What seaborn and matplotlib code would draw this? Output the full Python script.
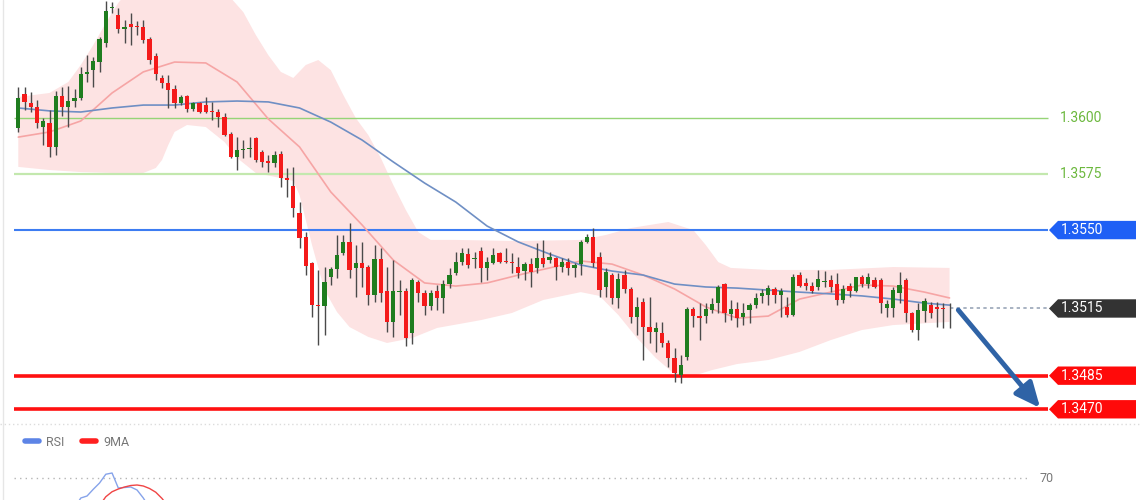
import matplotlib
matplotlib.use("Agg")
import matplotlib.pyplot as plt
from matplotlib.patches import Polygon
from matplotlib.lines import Line2D
from matplotlib.transforms import blended_transform_factory
import seaborn as sns
import numpy as np

# OHLC candles, oldest first
opens = [1.35956, 1.36107, 1.36067, 1.36049, 1.35960, 1.35978, 1.35871, 1.36098, 1.36049, 1.36076,
         1.36090, 1.36197, 1.36214, 1.36250, 1.36335, 1.36491, 1.36460, 1.36397, 1.36420, 1.36411,
         1.36406, 1.36353, 1.36277, 1.36179, 1.36156, 1.36130, 1.36067, 1.36098, 1.36040, 1.36067,
         1.36058, 1.36032, 1.36027, 1.36005, 1.35929, 1.35826, 1.35857, 1.35862, 1.35911, 1.35848,
         1.35808, 1.35799, 1.35840, 1.35732, 1.35697, 1.35576, 1.35469, 1.35353, 1.35165, 1.35161,
         1.35290, 1.35326, 1.35398, 1.35447, 1.35331, 1.35353, 1.35335, 1.35210, 1.35371, 1.35228,
         1.35090, 1.35223, 1.35228, 1.35041, 1.35268, 1.35219, 1.35161, 1.35228, 1.35197, 1.35259,
         1.35308, 1.35357, 1.35393, 1.35371, 1.35407, 1.35331, 1.35353, 1.35398, 1.35362, 1.35357,
         1.35335, 1.35317, 1.35348, 1.35331, 1.35375, 1.35366, 1.35375, 1.35335, 1.35357, 1.35331,
         1.35348, 1.35447, 1.35469, 1.35380, 1.35246, 1.35299, 1.35197, 1.35299, 1.35237, 1.35112,
         1.35179, 1.35067, 1.35045, 1.35041, 1.34996, 1.34929, 1.34853, 1.34933, 1.35148, 1.35116,
         1.35116, 1.35143, 1.35174, 1.35259, 1.35125, 1.35148, 1.35112, 1.35143, 1.35165, 1.35206,
         1.35210, 1.35237, 1.35210, 1.35157, 1.35121, 1.35299, 1.35264, 1.35250, 1.35246, 1.35268,
         1.35277, 1.35259, 1.35188, 1.35250, 1.35228, 1.35290, 1.35259, 1.35277, 1.35277, 1.35152,
         1.35152, 1.35219, 1.35277, 1.35130, 1.35054, 1.35139, 1.35165, 1.35157, 1.35152, 1.35152]
highs = [1.36139, 1.36139, 1.36116, 1.36081, 1.36000, 1.36036, 1.36121, 1.36139, 1.36143, 1.36130,
         1.36228, 1.36281, 1.36273, 1.36362, 1.36523, 1.36518, 1.36491, 1.36438, 1.36469, 1.36433,
         1.36438, 1.36362, 1.36290, 1.36192, 1.36192, 1.36148, 1.36103, 1.36103, 1.36072, 1.36072,
         1.36094, 1.36072, 1.36040, 1.36023, 1.35938, 1.35915, 1.35902, 1.35915, 1.35915, 1.35857,
         1.35835, 1.35853, 1.35853, 1.35777, 1.35782, 1.35625, 1.35491, 1.35357, 1.35322, 1.35335,
         1.35335, 1.35478, 1.35478, 1.35532, 1.35433, 1.35447, 1.35344, 1.35433, 1.35420, 1.35335,
         1.35366, 1.35277, 1.35241, 1.35286, 1.35277, 1.35232, 1.35232, 1.35255, 1.35277, 1.35331,
         1.35402, 1.35420, 1.35420, 1.35402, 1.35424, 1.35380, 1.35420, 1.35402, 1.35420, 1.35398,
         1.35380, 1.35357, 1.35375, 1.35442, 1.35456, 1.35402, 1.35380, 1.35375, 1.35375, 1.35353,
         1.35456, 1.35482, 1.35509, 1.35402, 1.35331, 1.35308, 1.35308, 1.35322, 1.35246, 1.35201,
         1.35197, 1.35201, 1.35090, 1.35090, 1.35009, 1.34974, 1.34942, 1.35157, 1.35157, 1.35174,
         1.35174, 1.35197, 1.35255, 1.35264, 1.35188, 1.35179, 1.35174, 1.35174, 1.35219, 1.35237,
         1.35255, 1.35246, 1.35241, 1.35201, 1.35304, 1.35313, 1.35286, 1.35268, 1.35322, 1.35317,
         1.35299, 1.35308, 1.35255, 1.35264, 1.35290, 1.35299, 1.35308, 1.35290, 1.35286, 1.35188,
         1.35246, 1.35313, 1.35286, 1.35134, 1.35174, 1.35197, 1.35179, 1.35179, 1.35174, 1.35174]
lows = [1.35938, 1.36036, 1.36027, 1.35956, 1.35880, 1.35826, 1.35835, 1.36009, 1.35960, 1.36049,
        1.36081, 1.36161, 1.36139, 1.36206, 1.36317, 1.36469, 1.36380, 1.36335, 1.36326, 1.36371,
        1.36335, 1.36241, 1.36170, 1.36134, 1.36045, 1.36045, 1.36058, 1.36027, 1.36032, 1.36023,
        1.36023, 1.35991, 1.35960, 1.35920, 1.35822, 1.35768, 1.35822, 1.35826, 1.35804, 1.35782,
        1.35759, 1.35782, 1.35692, 1.35648, 1.35558, 1.35420, 1.35299, 1.35112, 1.34987, 1.35032,
        1.35255, 1.35286, 1.35389, 1.35286, 1.35201, 1.35246, 1.35165, 1.35179, 1.35179, 1.35045,
        1.35023, 1.35121, 1.34982, 1.34991, 1.35179, 1.35121, 1.35143, 1.35143, 1.35130, 1.35241,
        1.35299, 1.35344, 1.35331, 1.35331, 1.35268, 1.35277, 1.35348, 1.35353, 1.35353, 1.35308,
        1.35286, 1.35277, 1.35246, 1.35308, 1.35335, 1.35353, 1.35277, 1.35313, 1.35299, 1.35290,
        1.35299, 1.35442, 1.35335, 1.35201, 1.35201, 1.35170, 1.35152, 1.35219, 1.35085, 1.35032,
        1.34920, 1.34996, 1.34956, 1.34978, 1.34889, 1.34822, 1.34817, 1.34920, 1.35067, 1.35009,
        1.35085, 1.35130, 1.35130, 1.35090, 1.35098, 1.35067, 1.35076, 1.35085, 1.35152, 1.35174,
        1.35165, 1.35174, 1.35112, 1.35112, 1.35116, 1.35246, 1.35232, 1.35219, 1.35232, 1.35246,
        1.35223, 1.35165, 1.35174, 1.35201, 1.35223, 1.35246, 1.35241, 1.35241, 1.35130, 1.35112,
        1.35112, 1.35174, 1.35090, 1.35045, 1.35009, 1.35090, 1.35107, 1.35067, 1.35063, 1.35063]
closes = [1.36090, 1.36072, 1.36049, 1.35978, 1.35987, 1.35871, 1.36098, 1.36049, 1.36076, 1.36090,
          1.36197, 1.36206, 1.36255, 1.36353, 1.36478, 1.36496, 1.36397, 1.36406, 1.36406, 1.36406,
          1.36348, 1.36259, 1.36197, 1.36156, 1.36125, 1.36067, 1.36094, 1.36040, 1.36067, 1.36027,
          1.36027, 1.36027, 1.36005, 1.35924, 1.35826, 1.35857, 1.35862, 1.35866, 1.35813, 1.35804,
          1.35799, 1.35835, 1.35732, 1.35724, 1.35599, 1.35465, 1.35340, 1.35165, 1.35161, 1.35268,
          1.35326, 1.35389, 1.35447, 1.35322, 1.35353, 1.35331, 1.35210, 1.35371, 1.35219, 1.35090,
          1.35228, 1.35228, 1.35018, 1.35277, 1.35219, 1.35161, 1.35219, 1.35197, 1.35259, 1.35299,
          1.35357, 1.35398, 1.35344, 1.35375, 1.35331, 1.35357, 1.35389, 1.35357, 1.35357, 1.35353,
          1.35308, 1.35348, 1.35313, 1.35375, 1.35348, 1.35380, 1.35335, 1.35357, 1.35331, 1.35344,
          1.35447, 1.35469, 1.35353, 1.35232, 1.35313, 1.35197, 1.35282, 1.35237, 1.35112, 1.35157,
          1.35067, 1.35045, 1.35063, 1.34996, 1.34929, 1.34862, 1.34898, 1.35148, 1.35116, 1.35107,
          1.35148, 1.35170, 1.35246, 1.35130, 1.35148, 1.35107, 1.35130, 1.35165, 1.35197, 1.35219,
          1.35241, 1.35210, 1.35228, 1.35121, 1.35290, 1.35250, 1.35250, 1.35228, 1.35282, 1.35272,
          1.35246, 1.35188, 1.35237, 1.35228, 1.35290, 1.35259, 1.35290, 1.35246, 1.35174, 1.35170,
          1.35232, 1.35255, 1.35130, 1.35054, 1.35143, 1.35183, 1.35130, 1.35148, 1.35148, 1.35150]

# moving averages read every 5 candles
ma_idx = [0, 5, 10, 15, 20, 25, 30, 35, 40, 45, 50, 55, 60, 65, 70, 75,
          80, 85, 90, 95, 100, 105, 110, 115, 120, 125, 130, 135, 140, 145, 149]
ma_fast = [1.35915, 1.35938, 1.35987, 1.36112, 1.36206, 1.36250, 1.36246, 1.36161, 1.35996, 1.35871,
           1.35670, 1.35523, 1.35366, 1.35264, 1.35250, 1.35264, 1.35299, 1.35331, 1.35362, 1.35348,
           1.35299, 1.35237, 1.35157, 1.35107, 1.35116, 1.35192, 1.35223, 1.35255, 1.35250, 1.35223, 1.35197]
ma_slow = [1.36045, 1.36032, 1.36027, 1.36045, 1.36058, 1.36058, 1.36072, 1.36076, 1.36072, 1.36045,
           1.35982, 1.35902, 1.35804, 1.35710, 1.35625, 1.35518, 1.35447, 1.35393, 1.35344, 1.35317,
           1.35299, 1.35259, 1.35246, 1.35241, 1.35232, 1.35223, 1.35215, 1.35206, 1.35192, 1.35174, 1.35165]

# envelope band
band_up_idx = [0, 5, 8, 10, 12, 14, 16, 18, 22, 26, 30, 34, 36, 38, 40, 42, 44, 46, 48, 50, 52, 54,
               56, 58, 60, 62, 64, 66, 70, 80, 90, 94, 98, 104, 108, 110, 112, 114, 120, 130, 140, 149]
band_up = [1.36094, 1.36112, 1.36161, 1.36237, 1.36326, 1.36424, 1.36514, 1.36581, 1.36639, 1.36616,
           1.36572, 1.36536, 1.36473, 1.36371, 1.36281, 1.36206, 1.36179, 1.36237, 1.36259, 1.36214,
           1.36103, 1.36000, 1.35924, 1.35822, 1.35701, 1.35590, 1.35491, 1.35456, 1.35456, 1.35451,
           1.35456, 1.35478, 1.35509, 1.35536, 1.35500, 1.35433, 1.35357, 1.35331, 1.35322, 1.35322,
           1.35335, 1.35331]
band_lo_idx = [0, 5, 10, 15, 20, 22, 23, 24, 25, 27, 30, 33, 35, 38, 42, 44, 45, 47, 49, 51, 53, 56,
               59, 63, 67, 74, 79, 84, 90, 93, 96, 99, 102, 105, 108, 111, 115, 120, 125, 130, 135, 140, 149]
band_lo = [1.35782, 1.35768, 1.35759, 1.35755, 1.35755, 1.35777, 1.35813, 1.35880, 1.35938, 1.35969,
           1.35960, 1.35893, 1.35822, 1.35755, 1.35732, 1.35719, 1.35656, 1.35433, 1.35232, 1.35134,
           1.35067, 1.35023, 1.34996, 1.35018, 1.35063, 1.35098, 1.35130, 1.35188, 1.35223, 1.35206,
           1.35121, 1.35018, 1.34929, 1.34857, 1.34849, 1.34875, 1.34902, 1.34920, 1.34956, 1.35009,
           1.35054, 1.35076, 1.35090]

# RSI pane
rsi_idx = [9, 10, 11, 12, 13, 14, 15, 16, 17, 18, 19, 20, 21]
rsi = [58, 62, 62.8, 65.5, 68, 71.5, 72, 66, 66.2, 66.4, 65.2, 62, 58]
rsi_ma_idx = [13, 14, 15, 16, 17, 18, 19, 20, 21, 22, 23, 24]
rsi_ma = [59, 62.5, 64.5, 65.6, 66.4, 67, 67.2, 66.8, 65.8, 64.3, 61.8, 58.5]

resistance = [1.3600, 1.3575]
pivot = 1.3550
last_price = 1.3515
supports = [1.3485, 1.3470]
arrow_from = (150.4, 1.35143)
arrow_to = (163.5, 1.34706)

W, H = 1140, 500
X0, STEP = 18.3, 6.25          # pixel of first candle, pixels per candle


def px(x):
    return (x - X0) / STEP


sns.set_style("white")
plt.rcParams['font.family'] = ['Roboto', 'DejaVu Sans']

fig = plt.figure(figsize=(W / 100, H / 100), dpi=100)
ax = fig.add_axes([0, 76 / H, 1, 424 / H])
rax = fig.add_axes([0, 0, 1, 76 / H])
for a in (ax, rax):
    a.set_xlim(px(0), px(W))
    a.axis('off')
ax.set_ylim(1.346343, 1.36527)
rax.set_ylim(61.2, 91.6)

# band
poly_x = band_up_idx + band_lo_idx[::-1]
poly_y = band_up + band_lo[::-1]
ax.fill(poly_x, poly_y, color='#fde3e3', lw=0, zorder=1)

# level lines
ax.hlines(resistance[0], px(14), px(1048), color='#96d477', lw=1, zorder=2)
ax.hlines(resistance[1], px(14), px(1048), color='#c3e8ae', lw=1.6, zorder=2)
ax.hlines(pivot, px(14), px(1048), color='#3d7cf2', lw=1.5, zorder=2)
ax.hlines(supports, px(14), px(1048), color='#ff1010', lw=2.6, zorder=2)
ax.hlines(last_price, px(950), px(1048), color='#9aa6b8', lw=1.2, ls=(0, (2, 2)), zorder=2)

# moving averages
sns.lineplot(x=ma_idx, y=ma_fast, ax=ax, color='#f6a5a5', lw=1.2, zorder=3)
sns.lineplot(x=ma_idx, y=ma_slow, ax=ax, color='#6f8fc4', lw=1.2, zorder=3)

# candles
o = np.array(opens)
c = np.array(closes)
idx = np.arange(len(o))
up = c >= o
ax.vlines(idx, lows, highs, color='#4a4a4a', lw=1, zorder=4)
body = np.maximum(np.abs(c - o), 0.00002)
ax.bar(idx, body, bottom=np.minimum(o, c), width=0.66,
       color=np.where(up, '#1f7d1f', '#f41a1a'), lw=0, zorder=5)

# right labels
tr = blended_transform_factory(ax.transAxes, ax.transData)
for lvl in resistance:
    ax.text(1060 / W, lvl, f'{lvl:.4f}', transform=tr, color='#6cb83e',
            va='center', ha='left', fontsize=10)


def tag(level, color):
    h = 0.00041
    pts = [(1049 / W, level), (1058 / W, level + h), (1136 / W, level + h),
           (1136 / W, level - h), (1058 / W, level - h)]
    ax.add_patch(Polygon(pts, closed=True, transform=tr, fc=color, ec='none',
                         clip_on=False, zorder=6))
    ax.text(1061 / W, level, f'{level:.4f}', transform=tr, color='white',
            va='center', ha='left', fontsize=10, zorder=7)


tag(pivot, '#1f60f5')
tag(last_price, '#333333')
for lvl in supports:
    tag(lvl, '#ff0a0a')

ax.annotate('', xy=arrow_to, xytext=arrow_from,
            arrowprops=dict(arrowstyle='-|>,head_length=1.0,head_width=0.45',
                            color='#2f63a6', lw=3.5, mutation_scale=15,
                            shrinkA=0, shrinkB=0), zorder=8)

# RSI pane
fig.add_artist(Line2D([0, 1], [76 / H, 76 / H], transform=fig.transFigure,
                      color='#dcdcdc', lw=1, ls=(0, (1, 2))))
rax.hlines(70, px(14), px(1030), color='#b5b5b5', lw=1, ls=(0, (1, 3)))
rax.text(1040 / W, 70, '70', transform=blended_transform_factory(rax.transAxes, rax.transData),
         color='#777777', va='center', ha='left', fontsize=9)
sns.lineplot(x=rsi_idx, y=rsi, ax=rax, color='#86a3ea', lw=1)
sns.lineplot(x=rsi_ma_idx, y=rsi_ma, ax=rax, color='#f04545', lw=1)
handles = [Line2D([], [], color='#5d84e6', lw=4), Line2D([], [], color='#ff2020', lw=4)]
rax.legend(handles, ['RSI', '9MA'], loc='center left', bbox_to_anchor=(0.012, 0.76),
           ncol=2, frameon=False, handlelength=1.1, handletextpad=0.6,
           columnspacing=1.4, fontsize=9, labelcolor='#777777')

fig.add_artist(Line2D([3 / W, 3 / W], [0, 1], transform=fig.transFigure, color='#e6e6e6', lw=1))

fig.savefig('out.png', dpi=100, facecolor='white')
